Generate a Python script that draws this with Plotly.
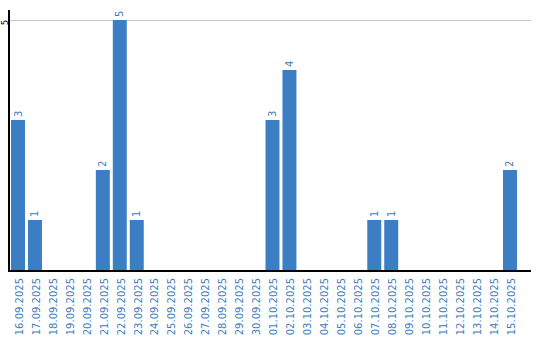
import plotly.graph_objects as go

dates = ["16.09.2025","17.09.2025","18.09.2025","19.09.2025","20.09.2025","21.09.2025",
         "22.09.2025","23.09.2025","24.09.2025","25.09.2025","26.09.2025","27.09.2025",
         "28.09.2025","29.09.2025","30.09.2025","01.10.2025","02.10.2025","03.10.2025",
         "04.10.2025","05.10.2025","06.10.2025","07.10.2025","08.10.2025","09.10.2025",
         "10.10.2025","11.10.2025","12.10.2025","13.10.2025","14.10.2025","15.10.2025"]
counts = [3,1,0,0,0,2,5,1,0,0,0,0,0,0,0,3,4,0,0,0,0,1,1,0,0,0,0,0,0,2]
labels = [str(v) if v else "" for v in counts]
ytick = 5

blue = "#3b7ec4"
fig = go.Figure(go.Bar(
    x=dates, y=counts, text=labels, textposition="outside", textangle=-90,
    textfont=dict(color=blue, size=10, family="DejaVu Sans"),
    marker=dict(color=blue, line=dict(width=0)), width=14/17, offset=-0.5,
    cliponaxis=False,
))
fig.update_layout(
    width=540, height=340, margin=dict(l=10, r=9, t=10, b=70),
    plot_bgcolor="white", paper_bgcolor="white", showlegend=False,
    font=dict(family="DejaVu Sans", size=10),
)
fig.add_annotation(x=0, xref="paper", y=ytick, yref="y", text=str(ytick), showarrow=False,
                   textangle=-90, xanchor="center", yanchor="middle", xshift=-5, yshift=-3,
                   borderpad=0, font=dict(color="black", size=8))
fig.update_xaxes(type="category", range=[-0.56, 30.15], showline=True, linecolor="black",
                 linewidth=2, tickangle=-90, tickfont=dict(color=blue, size=10),
                 showgrid=False, ticks="", automargin=False, ticklabelstandoff=2)
fig.update_yaxes(range=[0, 5.2], tickvals=[ytick], showticklabels=False,
                 showgrid=True, gridcolor="#c8c8c8",
                 showline=True, linecolor="black", linewidth=2, zeroline=False, ticks="",
                 automargin=False)
fig.write_html("out.html")
